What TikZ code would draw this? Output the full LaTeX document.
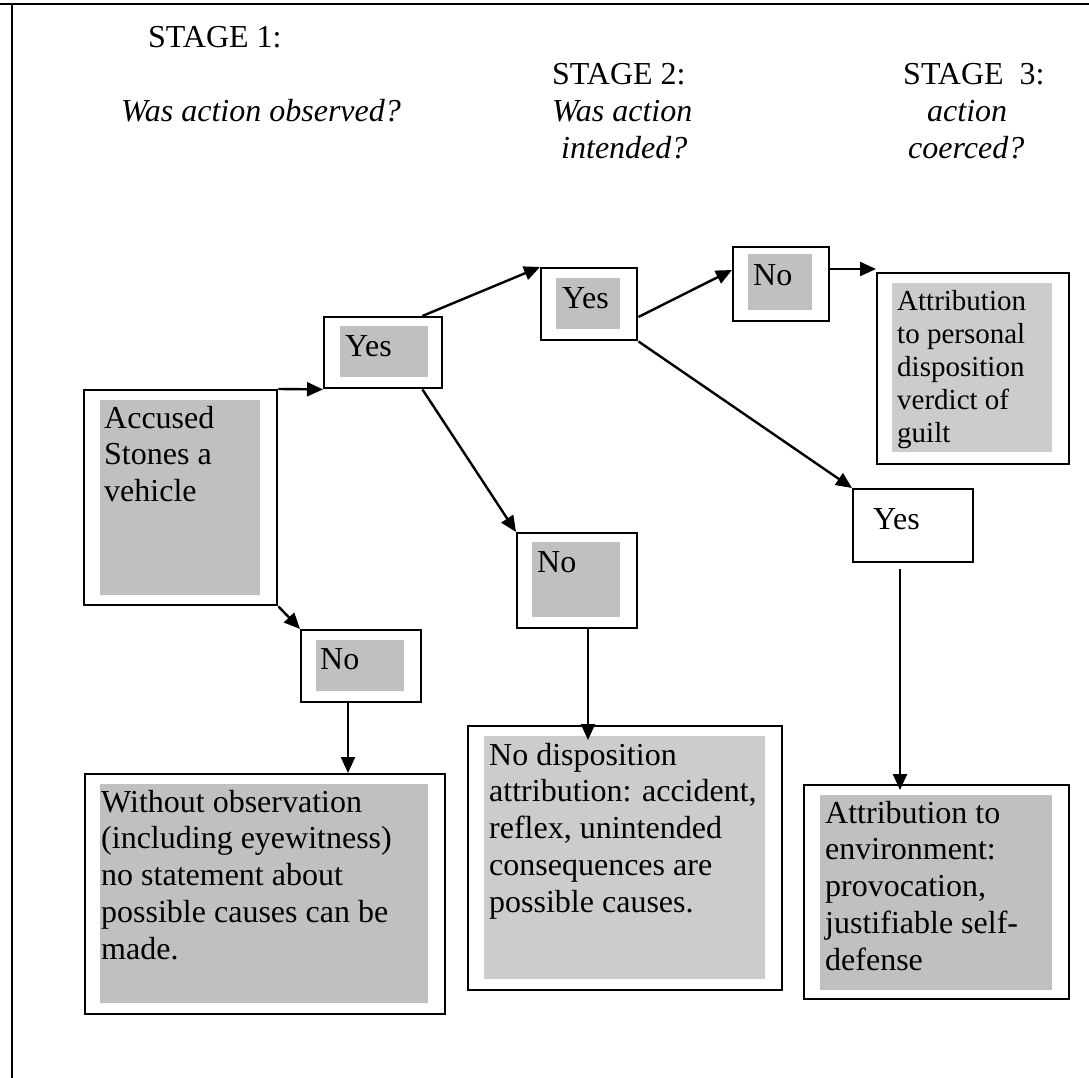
\documentclass[tikz,border=0pt]{standalone}
\usepackage{fontspec}
\setmainfont{Liberation Serif}
\usetikzlibrary{arrows.meta}
\definecolor{grayA}{HTML}{C0C0C0}
\definecolor{grayB}{HTML}{CCCCCC}
\newcommand{\lns}[1]{\parbox[t]{400pt}{\raggedright #1}}
\tikzset{
  outerbox/.style={draw, line width=2.4pt, inner sep=0pt, anchor=north west, fill=white},
  innerA/.style={fill=grayA, inner sep=0pt, anchor=north west},
  innerB/.style={fill=grayB, inner sep=0pt, anchor=north west},
  txt/.style={inner sep=0pt, anchor=base west, font=\fontsize{32}{36.8}\selectfont},
  smalltxt/.style={inner sep=0pt, anchor=base west, font=\fontsize{29}{33.2}\selectfont},
  hdr/.style={inner sep=0pt, anchor=base west, font=\fontsize{32}{36.8}\selectfont},
  hdri/.style={hdr, font=\fontsize{32}{36.8}\selectfont\itshape},
  conn/.style={line width=2.4pt, -{Triangle[length=16pt,width=14pt]}},
  frameline/.style={line width=2.8pt}
}
\begin{document}
\begin{tikzpicture}[x=1pt,y=-1pt]
\useasboundingbox (0,0) rectangle (1089,1078);
% frame
\coordinate (fTL) at (12,4);
\coordinate (fTR) at (1089,4);
\coordinate (fBL) at (12,1078);
\coordinate (fL) at (0,4);
\draw[frameline] (fL) -- (fTR);
\draw[frameline] (fTL) -- (fBL);

% headers
\node[hdr] (s1) at (148,48) {STAGE 1:};
\node[hdri] (q1) at (121,122) {Was action observed?};
\node[hdr] (s2) at (552,85) {STAGE 2:};
\node[hdri] (q2a) at (552,122) {Was action};
\node[hdri] (q2b) at (561,159) {intended?};
\node[hdr] (s3) at (903,85) {STAGE\ \ 3:};
\node[hdri] (q3a) at (927,122) {action};
\node[hdri] (q3b) at (908,159) {coerced?};

% Accused
\node[outerbox, minimum width=193pt, minimum height=215pt] (accO) at (83,389) {};
\node[innerA, minimum width=160pt, minimum height=195pt] (accG) at (100,400) {};
\node[txt] (accT) at (104,428) {\lns{Accused\\Stones a\\vehicle}};

% Yes1
\node[outerbox, minimum width=118pt, minimum height=71pt] (yes1O) at (323,316) {};
\node[innerA, minimum width=88pt, minimum height=51pt] (yes1G) at (340,326) {};
\node[txt] (yes1T) at (345,356) {Yes};

% No1
\node[outerbox, minimum width=120pt, minimum height=72pt] (no1O) at (300,629) {};
\node[innerA, minimum width=88pt, minimum height=51pt] (no1G) at (316,640) {};
\node[txt] (no1T) at (320,669) {No};

% Without
\node[outerbox, minimum width=360pt, minimum height=240pt] (withO) at (84,773) {};
\node[innerA, minimum width=328pt, minimum height=219pt] (withG) at (100,784) {};
\node[txt] (withT) at (101,812) {\lns{Without observation\\(including eyewitness)\\no statement about\\possible causes can be\\made.}};

% Yes2
\node[outerbox, minimum width=96pt, minimum height=72pt] (yes2O) at (540,267) {};
\node[innerA, minimum width=64pt, minimum height=51pt] (yes2G) at (556,278) {};
\node[txt] (yes2T) at (562,308) {Yes};

% No2
\node[outerbox, minimum width=96pt, minimum height=74pt] (no2O) at (732,246) {};
\node[innerA, minimum width=64pt, minimum height=56pt] (no2G) at (748,254) {};
\node[txt] (no2T) at (753,285) {No};

% Attribution personal
\node[outerbox, minimum width=192pt, minimum height=191pt] (attrO) at (876,272) {};
\node[innerB, minimum width=160pt, minimum height=169pt] (attrG) at (892,283) {};
\node[smalltxt] (attrT) at (897,310) {\lns{Attribution\\to personal\\disposition\\verdict of\\guilt}};

% No mid
\node[outerbox, minimum width=120pt, minimum height=95pt] (noMidO) at (516,532) {};
\node[innerA, minimum width=88pt, minimum height=75pt] (noMidG) at (532,542) {};
\node[txt] (noMidT) at (537,572) {No};

% Mid box
\node[outerbox, minimum width=314pt, minimum height=264pt] (midO) at (467,725) {};
\node[innerB, minimum width=281pt, minimum height=243pt] (midG) at (484,736) {};
\node[txt] (midT) at (489,765) {\lns{No disposition\\attribution: accident,\\reflex, unintended\\consequences are\\possible causes.}};

% Yes3
\node[outerbox, minimum width=120pt, minimum height=73pt] (yes3O) at (852,488) {};
\node[txt] (yes3T) at (873,529) {Yes};

% Environment
\node[outerbox, minimum width=265pt, minimum height=214pt] (envO) at (803,784) {};
\node[innerA, minimum width=232pt, minimum height=195pt] (envG) at (820,795) {};
\node[txt] (envT) at (825,823) {\lns{Attribution to\\environment:\\provocation,\\justifiable self-\\defense}};

% connectors
\coordinate (midIn) at (588,740);
\draw[conn] (accO.north east) -- (yes1O.south west);
\draw[conn] (accO.south east) -- (no1O.north west);
\draw[conn] ([xshift=-21pt]yes1O.north east) -- (yes2O.north west);
\draw[conn] ([xshift=-21pt]yes1O.south east) -- (noMidO.north west);
\draw[conn] ([xshift=48pt]no1O.south west) -- ([xshift=48pt]no1O.south west |- withO.north);
\draw[conn] ([yshift=-50pt]yes2O.north east) -- ([yshift=-24pt]no2O.north west);
\draw[conn] ([yshift=-23pt]no2O.north east) -- ([yshift=-23pt]no2O.north east -| attrO.west);
\draw[conn] (yes2O.south east) -- (yes3O.north west);
\draw[conn] ([xshift=72pt]noMidO.south west) -- (midIn);
\draw[conn] ([xshift=48pt,yshift=-6pt]yes3O.south west) -- ([xshift=48pt,yshift=-6pt]yes3O.south west |- envO.north);
\end{tikzpicture}
\end{document}
